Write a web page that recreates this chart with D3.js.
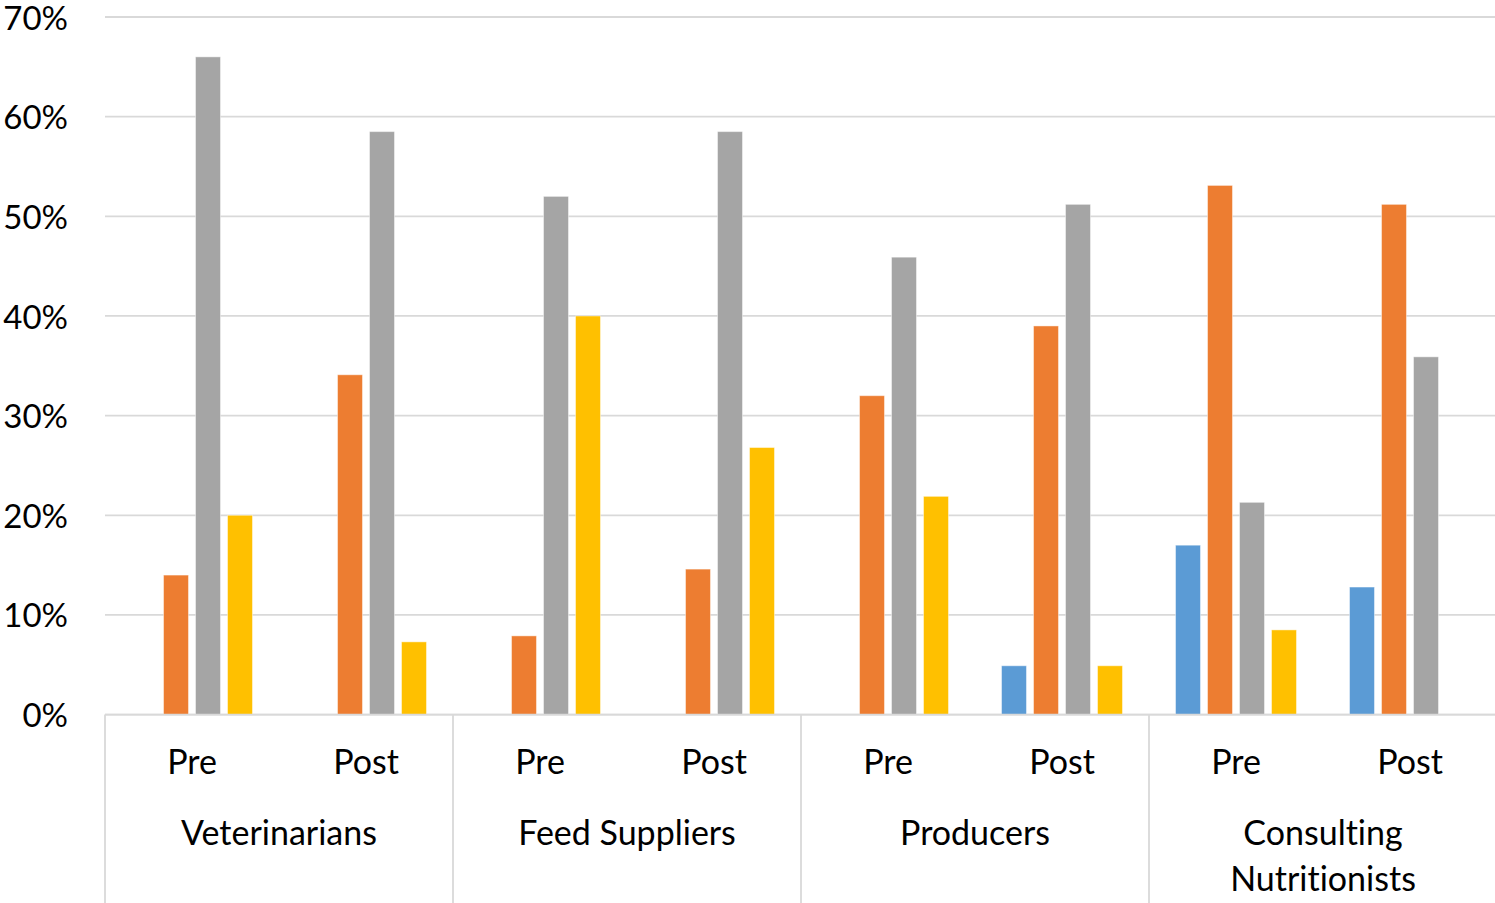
<!DOCTYPE html>
<html>
<head>
<meta charset="utf-8">
<script src="https://cdn.jsdelivr.net/npm/d3@7"></script>
<style>
  html, body { margin: 0; padding: 0; background: #fff; }
  svg { display: block; }
  text { font-family: Lato, "Open Sans", sans-serif; fill: #000; font-variant-ligatures: none; }
</style>
</head>
<body>
<svg id="chart" width="1495" height="903"></svg>
<script>
// Survey share by respondent group, before and after (values in %)
const groups = ["Veterinarians", "Feed Suppliers", "Producers", "Consulting\nNutritionists"];
const phases = ["Pre", "Post"];
const seriesNames = ["S1", "S2", "S3", "S4"];
const seriesColors = ["#5B9BD5", "#ED7D31", "#A5A5A5", "#FFC000"];

// one value per category (group × phase), in category order
const s1 = [0, 0, 0, 0, 0, 4.9, 17.0, 12.8];
const s2 = [14.0, 34.1, 7.9, 14.6, 32.0, 39.0, 53.1, 51.2];
const s3 = [66.0, 58.5, 52.0, 58.5, 45.9, 51.2, 21.3, 35.9];
const s4 = [20.0, 7.3, 40.0, 26.8, 21.9, 4.9, 8.5, 0];
const yTicks = [0, 10, 20, 30, 40, 50, 60, 70];

const seriesValues = [s1, s2, s3, s4];
const categories = [];
groups.forEach(g => phases.forEach(p => categories.push({ group: g, phase: p })));

const svg = d3.select("#chart");
const margin = { left: 105, right: 1497, top: 17, zero: 714.6 };

const x0 = d3.scaleBand()
  .domain(d3.range(categories.length))
  .range([margin.left, margin.right])
  .padding(0);

const barSpan = 128; // four bar slots
const x1 = d3.scaleBand()
  .domain(seriesNames)
  .range([(x0.bandwidth() - barSpan) / 2, (x0.bandwidth() + barSpan) / 2])
  .paddingInner(0.22)
  .paddingOuter(0.11);

const y = d3.scaleLinear().domain([0, 70]).range([margin.zero, margin.top]);

// horizontal gridlines
svg.append("g")
  .selectAll("line")
  .data(yTicks)
  .join("line")
  .attr("x1", margin.left)
  .attr("x2", 1495)
  .attr("y1", d => y(d))
  .attr("y2", d => y(d))
  .attr("stroke", "#d9d9d9")
  .attr("stroke-width", 1.8);

// y tick labels
svg.append("g")
  .selectAll("text")
  .data(yTicks)
  .join("text")
  .attr("x", 68)
  .attr("y", d => y(d))
  .attr("dy", "0.38em")
  .attr("text-anchor", "end")
  .attr("font-size", 33)
  .text(d => d + "%");

// bars
const catG = svg.append("g")
  .selectAll("g")
  .data(categories)
  .join("g")
  .attr("transform", (d, i) => `translate(${x0(i)},0)`);

catG.selectAll("rect")
  .data((d, i) => seriesNames.map((s, k) => ({ s, k, v: seriesValues[k][i] })).filter(e => e.v > 0))
  .join("rect")
  .attr("x", e => x1(e.s))
  .attr("width", x1.bandwidth())
  .attr("y", e => y(e.v))
  .attr("height", e => y(0) - y(e.v))
  .attr("fill", e => seriesColors[e.k])
  .attr("stroke", "#ffffff")
  .attr("stroke-opacity", 0.45)
  .attr("stroke-width", 1);

// axis baseline
svg.append("line")
  .attr("x1", margin.left).attr("x2", 1495)
  .attr("y1", y(0)).attr("y2", y(0))
  .attr("stroke", "#d9d9d9").attr("stroke-width", 1.8);

// group separators on the category axis
const groupEdges = d3.range(groups.length).map(g => x0(g * phases.length));
svg.append("g")
  .selectAll("line")
  .data(groupEdges)
  .join("line")
  .attr("x1", d => d).attr("x2", d => d)
  .attr("y1", y(0)).attr("y2", 903)
  .attr("stroke", "#d9d9d9").attr("stroke-width", 1.8);

// phase labels
svg.append("g")
  .selectAll("text")
  .data(categories)
  .join("text")
  .attr("x", (d, i) => x0(i) + x0.bandwidth() / 2)
  .attr("y", 774)
  .attr("text-anchor", "middle")
  .attr("font-size", 34)
  .text(d => d.phase);

// group labels
const groupLabels = svg.append("g")
  .selectAll("text")
  .data(groups)
  .join("text")
  .attr("x", (d, g) => x0(g * phases.length) + x0.bandwidth())
  .attr("y", 845)
  .attr("text-anchor", "middle")
  .attr("font-size", 34);

groupLabels.selectAll("tspan")
  .data(d => d.split("\n"))
  .join("tspan")
  .attr("x", function () { return d3.select(this.parentNode).attr("x"); })
  .attr("dy", (d, i) => i === 0 ? 0 : 46)
  .text(d => d);
</script>
</body>
</html>
